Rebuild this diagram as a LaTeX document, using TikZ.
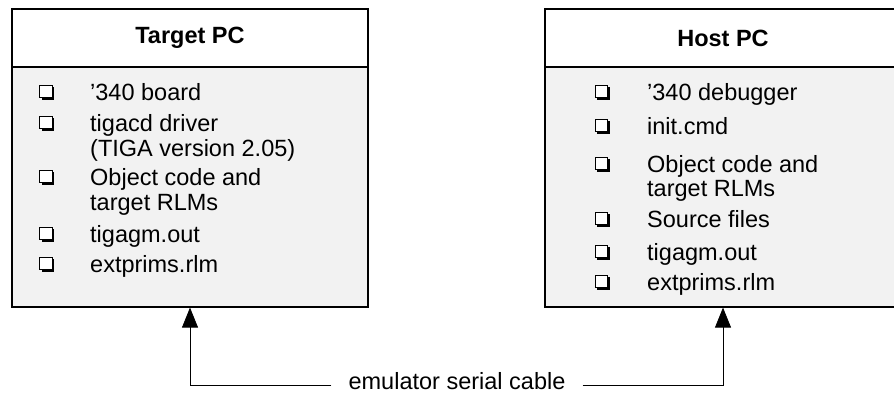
\documentclass[tikz,border=0pt]{standalone}
\usepackage{fontspec}
\setmainfont{Liberation Sans}
\usetikzlibrary{arrows.meta,shadows}

\tikzset{
  pcbox/.style={draw, line width=1.2pt, fill=black!5, minimum width=356pt,
    minimum height=298pt, inner sep=0pt},
  pchead/.style={draw, line width=1.2pt, fill=white, minimum width=356pt,
    minimum height=58pt, inner sep=0pt,
    font=\fontsize{23.5}{25}\selectfont\bfseries},
  entry/.style={anchor=base west, inner sep=0pt,
    font=\fontsize{23.5}{25}\selectfont},
  chk/.style={draw, line width=1.1pt, fill=white, minimum size=12.5pt,
    inner sep=0pt, drop shadow={shadow xshift=2pt, shadow yshift=-2pt,
    opacity=1, fill=black}},
  cable/.style={line width=0.8pt, -{Triangle[length=20pt,width=16pt]}}
}

\begin{document}
\begin{tikzpicture}[x=1pt,y=-1pt]

\useasboundingbox (0,0) rectangle (894,394);
\clip (0,0) rectangle (894,394);

% Target PC
\node[pcbox] (target) at (190,158) {};
\node[pchead] (targethead) at (190,38) {Target PC};

\foreach \y/\txt [count=\i] in {
100/{’340 board},
131/{tigacd driver},
156/{(TIGA version 2.05)},
185/{Object code and},
210/{target RLMs},
242/{tigagm.out},
272/{extprims.rlm}
}
{
\node[entry] (tline\i) at (90,\y) {\txt};
}

\foreach \y [count=\i] in {100,131,185,242,272}
{
\node[chk] (tbox\i) at (46,\y-8.5) {};
}

% Host PC
\node[pcbox] (host) at (723,158) {};
\node[pchead] (hosthead) at (723,38) {Host PC};

\foreach \y/\txt [count=\i] in {
100/{’340 debugger},
134/{init.cmd},
172/{Object code and},
196/{target RLMs},
227/{Source files},
260/{tigagm.out},
290/{extprims.rlm}
}
{
\node[entry] (hline\i) at (647,\y) {\txt};
}

\foreach \y [count=\i] in {100,134,172,227,260,290}
{
\node[chk] (hbox\i) at (601.5,\y-8.5) {};
}

% Cable
\node[font=\fontsize{23.5}{25}\selectfont, inner xsep=17pt, inner ysep=0pt,
  text height=8pt, text depth=0pt]
  (cablelabel) at (457,385) {emulator serial cable};

\draw[cable] (cablelabel.west) -| (target.south);
\draw[cable] (cablelabel.east) -| (host.south);

\end{tikzpicture}
\end{document}
